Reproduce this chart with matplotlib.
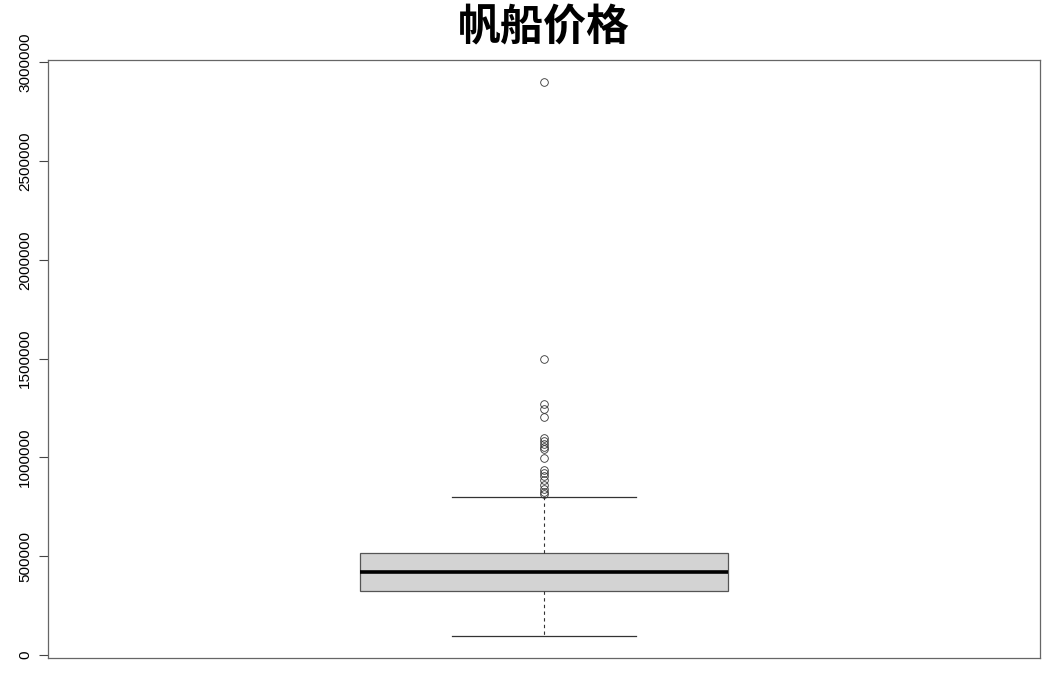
import numpy as np
import matplotlib.pyplot as plt

plt.rcParams['font.family'] = ['Liberation Sans', 'DejaVu Sans']

# boxplot summary (price)
q1 = 323000
median = 419000
q3 = 514000
whisker_low = 96000
whisker_high = 797000
outliers = [2900000, 1497000, 1271000, 1245000, 1205000,
            1100000, 1085000, 1070000, 1054000, 1040000, 998000,
            938000, 923000, 903000, 883000, 862000, 842000, 827000, 812000]
yticks = [0, 500000, 1000000, 1500000, 2000000, 2500000, 3000000]

stats = [dict(q1=q1, med=median, q3=q3, whislo=whisker_low,
              whishi=whisker_high, fliers=outliers)]

fig = plt.figure(figsize=(10.52, 6.77), dpi=100)
ax = fig.add_axes([48 / 1052, 19 / 677, 992 / 1052, 598 / 677])

line = dict(color='#333333', linewidth=0.9)
ax.bxp(stats, positions=[1], widths=0.371, capwidths=0.1855,
       patch_artist=True,
       boxprops=dict(facecolor='#d3d3d3', edgecolor='#555555', linewidth=0.9),
       medianprops=dict(color='black', linewidth=2.6),
       whiskerprops=dict(color='#333333', linewidth=0.8, linestyle=(0, (3, 3))),
       capprops=line,
       flierprops=dict(marker='o', markerfacecolor='none', markeredgecolor='#333333',
                       markersize=5.5, markeredgewidth=0.6))

lo = min(whisker_low, min(outliers))
hi = max(whisker_high, max(outliers))
pad = 0.04 * (hi - lo)
ax.set_ylim(lo - pad, hi + pad)
ax.set_xlim(0.5, 1.5)

ax.set_xticks([])
ax.set_yticks(yticks)
ax.set_yticklabels([str(v) for v in yticks], rotation=90, va='center', fontsize=11)
ax.tick_params(axis='y', length=6.5, width=0.8, color='#444444', pad=5)
for s in ax.spines.values():
    s.set_color('#666666')
    s.set_linewidth(0.9)

fig.text(544 / 1052, 1 - 27 / 677, '帆船价格', ha='center', va='center',
         fontsize=31, fontweight='bold',
         family=['Noto Sans CJK SC', 'DejaVu Sans'])

fig.savefig('out.png', dpi=100)
